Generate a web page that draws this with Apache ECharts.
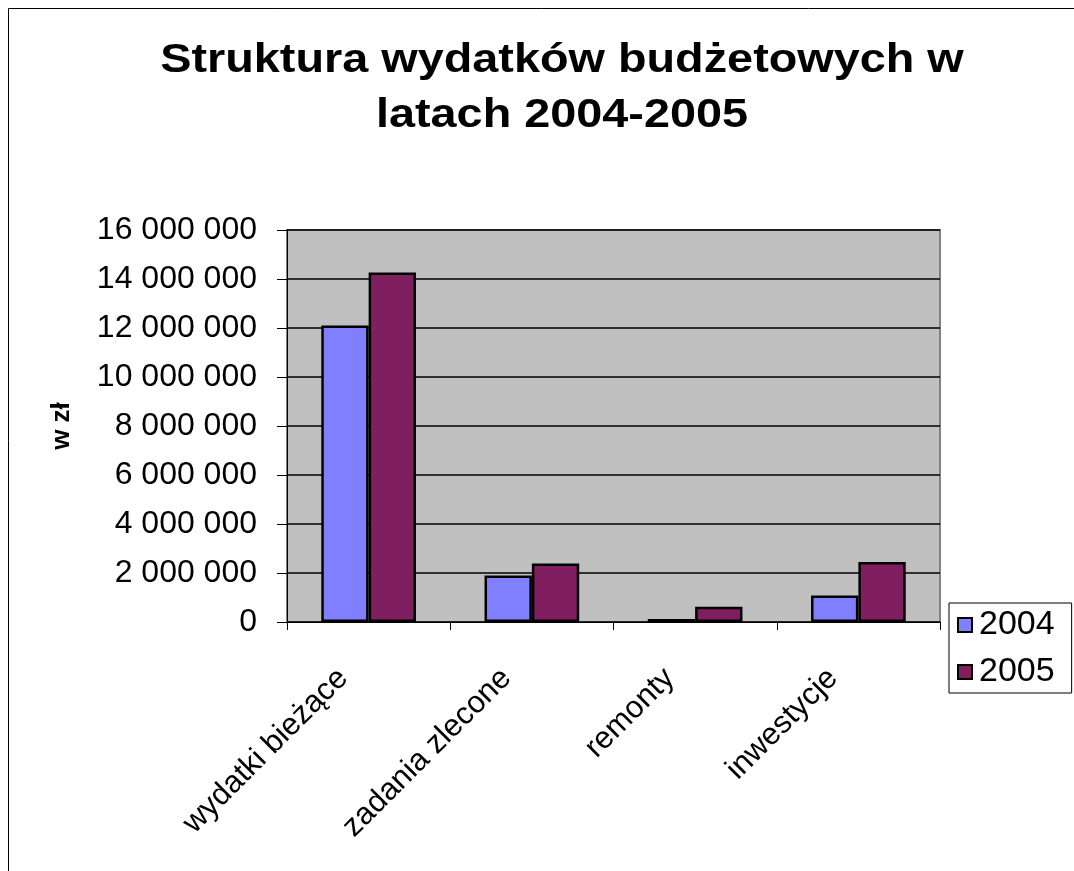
<!DOCTYPE html>
<html>
<head>
<meta charset="utf-8">
<script src="https://cdn.jsdelivr.net/npm/echarts@6/dist/echarts.min.js"></script>
<style>
  html, body { margin: 0; padding: 0; background: #fff; }
  #chart { width: 1074px; height: 871px; }
</style>
</head>
<body>
<div id="chart"></div>
<script>
const categories = ["wydatki bieżące", "zadania zlecone", "remonty", "inwestycje"];
const years = ["2004", "2005"];
const values2004 = [12100000, 1900000, 120000, 1080000];
const values2005 = [14270000, 2390000, 620000, 2450000];
const colors = ["#8080FF", "#7F1F5F"];
const titleLines = ["Struktura wydatków budżetowych w", "latach 2004-2005"];

const FONT = "'Liberation Sans', Arial, sans-serif";

function fmtNum(v) {
  return String(v).replace(/\B(?=(\d{3})+(?!\d))/g, " ");
}

const chart = echarts.init(document.getElementById("chart"), null, { renderer: "canvas" });

chart.setOption({
  animation: false,
  backgroundColor: "#fff",
  graphic: [
    {
      type: "rect",
      shape: { x: 8.5, y: 8.5, width: 1080, height: 880 },
      style: { fill: "none", stroke: "#000", lineWidth: 1 },
      silent: true,
    },
    // title, a bit wider than the plain font like the original
    {
      type: "text",
      x: 562,
      y: 33,
      scaleX: 1.17,
      style: {
        text: titleLines.join("\n"),
        font: "bold 40px " + FONT,
        fill: "#000",
        align: "center",
        verticalAlign: "top",
        lineHeight: 55,
      },
      silent: true,
    },
  ],
  legend: {
    orient: "vertical",
    left: 949,
    top: 603,
    padding: [5, 17, 4, 8],
    itemGap: 13,
    itemWidth: 14,
    itemHeight: 14,
    borderColor: "#000",
    borderWidth: 1,
    backgroundColor: "#fff",
    icon: "rect",
    textStyle: { fontFamily: FONT, fontSize: 34, color: "#000", padding: [0, 0, 0, 2] },
    itemStyle: { borderColor: "#000", borderWidth: 2 },
    data: years,
  },
  grid: {
    left: 287,
    right: 134,
    top: 230,
    bottom: 249,
    show: true,
    backgroundColor: "#C0C0C0",
    borderColor: "#808080",
    borderWidth: 2,
  },
  xAxis: {
    type: "category",
    data: categories,
    boundaryGap: true,
    axisLine: { lineStyle: { color: "#000", width: 1 } },
    axisTick: { show: true, length: 8, interval: 0, lineStyle: { color: "#000" } },
    axisLabel: {
      interval: 0,
      rotate: 45,
      margin: 26,
      padding: [0, 36, 0, 0],
      fontFamily: FONT,
      fontSize: 31,
      color: "#000",
    },
  },
  yAxis: {
    type: "value",
    min: 0,
    max: 16000000,
    interval: 2000000,
    name: "w zł",
    nameLocation: "middle",
    nameGap: 212,
    nameRotate: 90,
    nameTextStyle: { fontFamily: FONT, fontSize: 26, fontWeight: "bold", color: "#000" },
    axisLine: { show: true, lineStyle: { color: "#000", width: 1 } },
    axisTick: { show: true, length: 10, inside: false, lineStyle: { color: "#000" } },
    axisLabel: {
      fontFamily: FONT,
      fontSize: 32,
      color: "#000",
      margin: 30,
      formatter: (v) => fmtNum(v),
    },
    splitLine: { show: true, lineStyle: { color: "#000", width: 1.5 } },
  },
  series: [
    {
      name: years[0],
      type: "bar",
      data: values2004,
      barGap: "0%",
      barCategoryGap: "42%",
      itemStyle: { color: colors[0], borderColor: "#000", borderWidth: 2.5 },
    },
    {
      name: years[1],
      type: "bar",
      data: values2005,
      barGap: "0%",
      barCategoryGap: "42%",
      itemStyle: { color: colors[1], borderColor: "#000", borderWidth: 2.5 },
    },
  ],
});
</script>
</body>
</html>
